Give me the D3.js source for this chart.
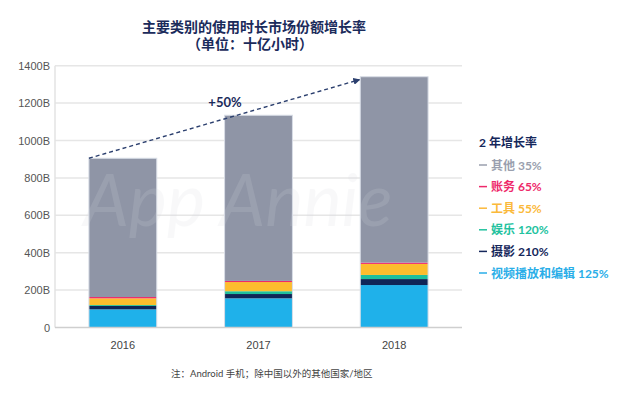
<!DOCTYPE html>
<html>
<head>
<meta charset="utf-8">
<script src="https://cdn.jsdelivr.net/npm/d3@7"></script>
<style>
  body { margin: 0; background: #fff; }
  svg { font-family: Lato, "Noto Sans CJK SC", sans-serif; }
</style>
</head>
<body>
<svg width="624" height="398"></svg>
<script>
// data (billions of hours)
var years = ["2016", "2017", "2018"];
var categories = ["视频播放和编辑", "摄影", "娱乐", "工具", "账务", "其他"];
var video = [97, 156, 227];
var photo = [18, 23, 32];
var fun = [5, 15, 22];
var tools = [36, 49, 59];
var finance = [7, 6, 7];
var other = [742, 886, 994];
var growth = ["125%", "210%", "120%", "55%", "65%", "35%"];
var yTicks = [0, 200, 400, 600, 800, 1000, 1200, 1400];

var colors = ["#1fb1ea", "#0f2557", "#1fbf9d", "#fdbd2d", "#ee2a6b", "#8f95a6"];
var textColors = ["#2aaee8", "#15275b", "#22c29e", "#fbb93a", "#ee2a6b", "#9a9fae"];

var series = [video, photo, fun, tools, finance, other];
var rows = years.map(function(y, i) {
  var r = {year: y};
  categories.forEach(function(c, k) { r[c] = series[k][i]; });
  return r;
});
var stacked = d3.stack().keys(categories)(rows);
var totals = rows.map(function(r) { return d3.sum(categories, function(c) { return r[c]; }); });

var svg = d3.select("svg");

var x = d3.scaleBand()
    .domain(years)
    .range([55, 462])
    .paddingInner(0.5)
    .paddingOuter(0.25);

var y = d3.scaleLinear()
    .domain([0, 1400])
    .range([327.5, 65.7]);

// gridlines
svg.append("g")
  .selectAll("line")
  .data(yTicks.slice(1))
  .enter().append("line")
    .attr("x1", 55).attr("x2", 462)
    .attr("y1", function(d) { return y(d); })
    .attr("y2", function(d) { return y(d); })
    .attr("stroke", "#e6e6e6")
    .attr("stroke-width", 1.5);

// left axis line
svg.append("line")
    .attr("x1", 55).attr("x2", 55)
    .attr("y1", y(1400)).attr("y2", y(0))
    .attr("stroke", "#e3e3e3").attr("stroke-width", 1.5);

// y tick labels
var yAxis = svg.append("g")
    .attr("transform", "translate(55,0)")
    .call(d3.axisLeft(y).tickValues(yTicks).tickSize(0).tickPadding(5)
      .tickFormat(function(d) { return d === 0 ? "0" : d + "B"; }));
yAxis.select(".domain").remove();
yAxis.selectAll("text").attr("fill", "#555").attr("font-size", 11);

// bars
svg.append("g")
  .selectAll("g")
  .data(stacked)
  .enter().append("g")
    .attr("fill", function(d, i) { return colors[i]; })
  .selectAll("rect")
  .data(function(d) { return d; })
  .enter().append("rect")
    .attr("x", function(d) { return x(d.data.year); })
    .attr("y", function(d) { return y(d[1]); })
    .attr("width", x.bandwidth())
    .attr("height", function(d) { return y(d[0]) - y(d[1]); });

// bar outline
svg.append("g")
  .selectAll("rect")
  .data(years)
  .enter().append("rect")
    .attr("x", function(d) { return x(d); })
    .attr("y", function(d, i) { return y(totals[i]); })
    .attr("width", x.bandwidth())
    .attr("height", function(d, i) { return y(0) - y(totals[i]); })
    .attr("fill", "none")
    .attr("stroke", "#d8dde6")
    .attr("stroke-width", 1);

// watermark
svg.append("text")
    .attr("x", 238).attr("y", 226)
    .attr("text-anchor", "middle")
    .attr("font-size", 72)
    .attr("font-style", "italic")
    .attr("fill", "#d5d9e0")
    .attr("opacity", 0.16)
    .text("App Annie");

// baseline
svg.append("line")
    .attr("x1", 55).attr("x2", 462)
    .attr("y1", y(0)).attr("y2", y(0))
    .attr("stroke", "#cfcfcf").attr("stroke-width", 1.5);

// x labels
var xAxis = svg.append("g")
    .attr("transform", "translate(0," + y(0) + ")")
    .call(d3.axisBottom(x).tickSize(0).tickPadding(14));
xAxis.select(".domain").remove();
xAxis.selectAll("text").attr("fill", "#444").attr("font-size", 11);

// dashed growth arrow
svg.append("defs").append("marker")
    .attr("id", "arr")
    .attr("viewBox", "0 0 6 6")
    .attr("refX", 5).attr("refY", 3)
    .attr("markerWidth", 5).attr("markerHeight", 5)
    .attr("orient", "auto")
  .append("path")
    .attr("d", "M0,0L6,3L0,6Z")
    .attr("fill", "#2b3f6e");

svg.append("line")
    .attr("x1", x(years[0]))
    .attr("y1", y(totals[0]))
    .attr("x2", x(years[2]) - 1)
    .attr("y2", y(totals[2]) + 3)
    .attr("stroke", "#2b3f6e")
    .attr("stroke-width", 1.4)
    .attr("stroke-dasharray", "4,3")
    .attr("marker-end", "url(#arr)");

svg.append("text")
    .attr("x", 225).attr("y", 107)
    .attr("text-anchor", "middle")
    .attr("font-size", 13)
    .attr("font-weight", "bold")
    .attr("fill", "#1b2b5b")
    .text("+50%");

// title
var title = svg.append("text")
    .attr("text-anchor", "middle")
    .attr("font-size", 14)
    .attr("font-weight", "bold")
    .attr("fill", "#1b2b5b");
title.append("tspan").attr("x", 254).attr("y", 32).text("主要类别的使用时长市场份额增长率");
title.append("tspan").attr("x", 250).attr("y", 48.5).text("（单位：十亿小时）");

// legend
svg.append("text")
    .attr("x", 479).attr("y", 147)
    .attr("font-size", 12)
    .attr("font-weight", "bold")
    .attr("fill", "#15275b")
    .text("2 年增长率");

var legendOrder = d3.range(categories.length).reverse();
var leg = svg.append("g")
  .selectAll("g")
  .data(legendOrder)
  .enter().append("g")
    .attr("transform", function(d, i) { return "translate(479," + (165 + i * 21.6) + ")"; });

leg.append("line")
    .attr("x1", 0).attr("x2", 8)
    .attr("stroke", function(d) { return textColors[d]; })
    .attr("stroke-width", 1.5);

leg.append("text")
    .attr("x", 12).attr("y", 4.5)
    .attr("font-size", 12)
    .attr("font-weight", "bold")
    .attr("fill", function(d) { return textColors[d]; })
    .text(function(d) { return categories[d] + " " + growth[d]; });

// footnote
svg.append("text")
    .attr("x", 171).attr("y", 376.5)
    .attr("font-size", 9.5)
    .attr("fill", "#444")
    .text("注：Android 手机；除中国以外的其他国家/地区");
</script>
</body>
</html>
